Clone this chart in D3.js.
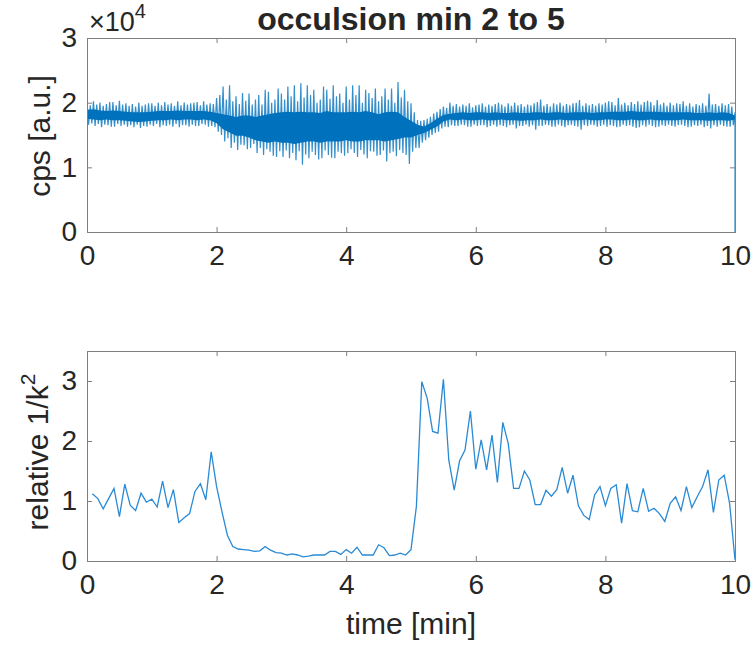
<!DOCTYPE html>
<html><head><meta charset="utf-8">
<script src="https://cdn.jsdelivr.net/npm/d3@7"></script>
<style>
body{margin:0;background:#fff}
svg{display:block}
text{font-family:"Liberation Sans",Arial,Helvetica,sans-serif;fill:#262626}
</style>
</head><body>
<svg id="c" width="754" height="650"></svg>
<script>
// ---------- data ----------
const xTicks = [0, 2, 4, 6, 8, 10];
const cpsTicks = [0, 1, 2, 3];      // in units of 10^4 cps
const kTicks = [0, 1, 2, 3];
const titleText = "occulsion min 2 to 5";

// top panel: local spike extremes every 0.05 min (units of 10^4 cps)
const spikeStepMin = 0.05;
const cpsMax = [
  2.00,1.96,2.02,1.97,2.00,1.95,1.98,2.01,2.01,1.96,
  2.03,1.97,1.99,1.95,1.98,1.94,2.00,1.95,1.97,1.99,
  1.99,1.95,2.00,1.96,2.01,1.97,1.99,1.95,2.02,1.96,
  2.00,1.97,1.99,2.00,2.01,1.96,2.02,1.97,1.99,1.98,
  2.07,2.12,2.25,2.05,2.27,2.02,2.10,1.98,2.15,2.03,
  2.14,1.97,2.05,2.12,1.97,2.20,2.17,2.00,2.05,2.22,
  2.14,2.05,2.25,2.10,2.27,2.02,2.30,2.08,2.27,2.12,
  2.20,2.00,2.05,2.25,2.20,2.06,2.27,2.10,2.14,2.00,
  2.25,2.05,2.27,2.12,2.27,2.00,2.20,2.15,2.07,2.22,
  2.02,2.10,2.22,2.05,2.22,2.00,2.32,2.08,2.20,2.02,
  1.99,1.85,1.73,1.72,1.73,1.75,1.78,1.83,1.86,1.90,
  1.94,1.92,2.00,1.95,
  1.98,1.94,1.97,1.95,1.99,1.93,1.96,1.97,1.99,1.94,1.97,1.95,1.98,2.00,1.97,1.94,1.99,1.95,2.00,1.96,
  1.98,1.94,1.97,1.96,1.99,2.01,2.05,1.95,1.98,1.94,1.99,1.97,2.00,1.95,1.98,1.96,1.99,2.00,2.04,1.95,
  1.99,1.96,1.98,1.95,1.99,1.97,2.00,2.02,2.01,1.96,2.07,1.97,2.00,1.96,2.01,1.98,2.02,1.97,2.01,2.03,
  2.01,1.96,2.04,1.97,2.00,1.95,2.00,1.96,1.99,1.98,2.02,1.95,1.99,1.94,1.98,1.96,1.99,1.95,2.14,1.97,
  1.98,1.95,1.99,1.96,1.98,1.94,1.85];
const cpsMin = [
  1.66,1.68,1.64,1.67,1.62,1.66,1.65,1.63,1.63,1.67,
  1.64,1.66,1.63,1.65,1.62,1.66,1.61,1.64,1.63,1.66,
  1.64,1.67,1.62,1.65,1.64,1.66,1.63,1.67,1.62,1.65,
  1.65,1.63,1.66,1.64,1.64,1.67,1.66,1.63,1.64,1.62,
  1.55,1.50,1.40,1.45,1.30,1.38,1.27,1.35,1.34,1.28,
  1.30,1.36,1.22,1.30,1.19,1.28,1.24,1.18,1.16,1.25,
  1.16,1.26,1.14,1.22,1.11,1.25,1.04,1.20,1.14,1.24,
  1.19,1.12,1.14,1.26,1.19,1.15,1.14,1.24,1.22,1.18,
  1.22,1.28,1.22,1.16,1.27,1.20,1.14,1.25,1.24,1.18,
  1.19,1.26,1.09,1.22,1.24,1.17,1.27,1.22,1.19,1.05,
  1.24,1.30,1.30,1.38,1.42,1.46,1.50,1.53,1.55,1.60,
  1.63,1.62,1.65,1.64,
  1.64,1.66,1.65,1.63,1.63,1.66,1.64,1.65,1.65,1.62,1.64,1.66,1.63,1.65,1.64,1.62,1.65,1.66,1.60,1.64,
  1.64,1.66,1.63,1.65,1.58,1.64,1.64,1.66,1.65,1.63,1.63,1.66,1.64,1.62,1.65,1.66,1.64,1.63,1.58,1.65,
  1.64,1.66,1.65,1.63,1.64,1.66,1.63,1.65,1.64,1.62,1.63,1.66,1.64,1.65,1.63,1.61,1.62,1.65,1.63,1.66,
  1.64,1.62,1.63,1.65,1.64,1.66,1.64,1.63,1.65,1.66,1.64,1.62,1.63,1.65,1.64,1.66,1.62,1.64,1.60,1.65,
  1.63,1.66,1.64,1.63,1.63,1.65,0.00];

// top panel: dense core of the signal per 0.1 min (units of 10^4 cps)
const coreStepMin = 0.1;
const cpsHi = [1.89,1.90,1.88,1.87,1.88,1.87,1.86,1.85,1.85,1.85,1.86,1.87,1.87,1.87,1.88,1.87,1.87,1.87,1.87,1.86,
  1.84,1.82,1.80,1.78,1.80,1.80,1.78,1.80,1.82,1.84,
  1.85,1.86,1.85,1.86,1.85,1.85,1.84,1.87,1.85,1.85,
  1.85,1.86,1.85,1.87,1.85,1.82,1.85,1.86,1.85,1.78,
  1.72,1.66,1.63,1.68,1.75,1.81,1.83,
  1.84,1.85,1.84,1.85,1.85,1.84,1.85,1.84,1.84,1.85,
  1.84,1.84,1.85,1.85,1.84,1.85,1.85,1.84,1.85,1.85,
  1.85,1.84,1.85,1.85,1.86,1.86,1.86,1.87,1.86,1.86,
  1.86,1.86,1.85,1.85,1.85,1.85,1.85,1.84,1.84,1.85,
  1.84,1.85,1.84,1.80];
const cpsLo = [1.75,1.74,1.73,1.74,1.73,1.73,1.72,1.71,1.70,1.71,1.72,1.73,1.73,1.74,1.73,1.74,1.74,1.73,1.74,1.73,
  1.68,1.59,1.54,1.49,1.49,1.46,1.42,1.40,1.38,1.40,
  1.38,1.38,1.36,1.38,1.40,1.40,1.38,1.40,1.40,1.40,
  1.42,1.40,1.40,1.42,1.42,1.42,1.40,1.42,1.44,1.46,
  1.46,1.50,1.53,1.58,1.63,1.71,1.74,
  1.73,1.74,1.73,1.73,1.74,1.73,1.73,1.74,1.73,1.73,
  1.72,1.73,1.73,1.74,1.73,1.73,1.74,1.73,1.73,1.73,
  1.74,1.73,1.73,1.74,1.74,1.73,1.73,1.74,1.73,1.73,
  1.74,1.73,1.73,1.73,1.73,1.74,1.73,1.73,1.73,1.72,
  1.73,1.73,1.72,1.74];

// bottom panel: relative 1/k^2, one value every 5 s (1/12 min), starting at 5 s
const kStepMin = 1 / 12;
const relK = [1.12,1.04,0.87,1.04,1.21,0.74,1.28,0.93,0.84,1.13,0.98,1.03,0.90,1.33,0.89,1.19,0.64,0.72,0.79,1.16,1.29,1.02,1.82,
  1.24,0.82,0.43,0.24,0.20,0.19,0.18,0.16,0.17,0.24,0.18,0.14,0.13,0.10,0.12,0.10,0.07,0.08,0.10,0.10,0.10,0.16,0.16,0.11,0.19,0.13,0.23,0.10,0.10,0.10,0.27,0.22,0.09,0.10,0.13,0.10,0.19,
  0.91,2.99,2.71,2.16,2.13,3.03,1.68,1.18,1.67,1.85,
  2.50,1.53,2.02,1.52,2.10,1.31,2.31,1.96,1.21,1.21,
  1.50,1.35,0.94,0.94,1.18,1.08,1.19,1.56,1.13,1.43,
  0.92,0.76,0.69,1.10,1.24,0.92,1.21,1.27,0.63,1.29,
  0.84,0.82,1.21,0.83,0.88,0.79,0.66,0.96,1.07,0.84,
  1.24,0.89,1.07,1.24,1.52,0.81,1.35,1.43,0.96,0.02];

// ---------- drawing ----------
const svg = d3.select("#c");
const AX = "#7f7f7f", TXT = "#262626", BLUE = "#0072BD";
const P1 = {l: 87, r: 735, t: 38, b: 232};
const P2 = {l: 87, r: 735, t: 351, b: 561};

const x1 = d3.scaleLinear().domain([0, 10]).range([P1.l, P1.r]).clamp(true);
const y1 = d3.scaleLinear().domain([0, 3]).range([P1.b, P1.t]);
const x2 = d3.scaleLinear().domain([0, 10]).range([P2.l, P2.r]);
const y2 = d3.scaleLinear().domain([0, 3.5]).range([P2.b, P2.t]);

const defs = svg.append("defs");
[["c1", P1], ["c2", P2]].forEach(([id, P]) => {
  defs.append("clipPath").attr("id", id).append("rect")
    .attr("x", P.l).attr("y", P.t - 1).attr("width", P.r - P.l + 1).attr("height", P.b - P.t + 2);
});

// top: dense core + spikes
const core = cpsHi.map((h, i) => ({t: i * coreStepMin, hi: h, lo: cpsLo[i]}));
const g1 = svg.append("g").attr("clip-path", "url(#c1)");
g1.append("path").datum(core)
  .attr("d", d3.area().x(d => x1(d.t)).y0(d => y1(d.lo)).y1(d => y1(d.hi)))
  .attr("fill", BLUE);
const zig = [];
cpsMax.forEach((m, j) => {
  const t = j * spikeStepMin;
  zig.push([t, m]);
  zig.push([t + spikeStepMin / 2, cpsMin[j]]);
});
g1.append("path").datum(zig)
  .attr("d", d3.line().x(d => x1(d[0])).y(d => y1(d[1])))
  .attr("fill", "none").attr("stroke", BLUE).attr("stroke-width", 1.2).attr("stroke-opacity", 0.8);

// bottom: line
const g2 = svg.append("g").attr("clip-path", "url(#c2)");
g2.append("path").datum(relK.map((v, i) => [(i + 1) * kStepMin, v]))
  .attr("d", d3.line().x(d => x2(d[0])).y(d => y2(d[1])))
  .attr("fill", "none").attr("stroke", "#2a8ad4").attr("stroke-width", 1.3);

function frame(P, xs, ys, yT) {
  const g = svg.append("g");
  const style = sel => {
    sel.select(".domain").remove();
    sel.selectAll("line").attr("stroke", AX);
    sel.selectAll("text").attr("font-size", 28).attr("fill", TXT)
      .attr("font-family", "'Liberation Sans', Arial, sans-serif");
  };
  g.append("g").attr("transform", `translate(0,${P.b})`)
    .call(d3.axisBottom(xs).tickValues(xTicks).tickSize(-5).tickPadding(13).tickFormat(d3.format("d"))).call(style);
  g.append("g").attr("transform", `translate(0,${P.t})`)
    .call(d3.axisTop(xs).tickValues(xTicks).tickSize(-5).tickFormat("")).call(style);
  g.append("g").attr("transform", `translate(${P.l},0)`)
    .call(d3.axisLeft(ys).tickValues(yT).tickSize(-5).tickPadding(10).tickFormat(d3.format("d"))).call(style);
  g.append("g").attr("transform", `translate(${P.r},0)`)
    .call(d3.axisRight(ys).tickValues(yT).tickSize(-5).tickFormat("")).call(style);
  g.append("rect").attr("x", P.l + 0.5).attr("y", P.t + 0.5)
    .attr("width", P.r - P.l).attr("height", P.b - P.t)
    .attr("fill", "none").attr("stroke", AX).attr("stroke-width", 1);
}
frame(P1, x1, y1, cpsTicks);
frame(P2, x2, y2, kTicks);

// texts
svg.append("text").attr("x", 411).attr("y", 30).attr("text-anchor", "middle")
  .attr("font-size", 32).attr("font-weight", "bold").attr("fill", "#000").text(titleText);

const ex = svg.append("text").attr("x", 89).attr("y", 31).attr("font-size", 27).attr("fill", "#404040");
ex.append("tspan").text("×10");
ex.append("tspan").attr("dy", -13).attr("font-size", 20).text("4");

svg.append("text").attr("transform", "translate(50,136) rotate(-90)").attr("text-anchor", "middle")
  .attr("font-size", 30).text("cps [a.u.]");

const yl = svg.append("text").attr("transform", "translate(48,452) rotate(-90)").attr("text-anchor", "middle")
  .attr("font-size", 30);
yl.append("tspan").text("relative 1/k");
yl.append("tspan").attr("dy", -13).attr("font-size", 21).text("2");

svg.append("text").attr("x", 411).attr("y", 634).attr("text-anchor", "middle")
  .attr("font-size", 30).text("time [min]");
</script>
</body></html>
